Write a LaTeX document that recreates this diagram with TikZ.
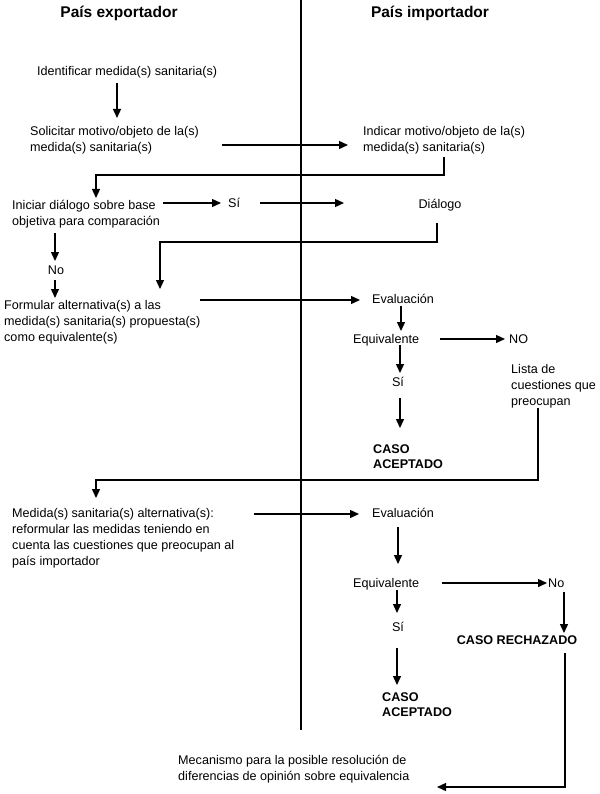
\documentclass[tikz,border=0pt]{standalone}
\usepackage{fontspec}
\setmainfont{Liberation Sans}
\usetikzlibrary{arrows.meta,calc}
\tikzset{
  txt/.style={inner sep=0pt, font=\fontsize{12.6}{16}\selectfont},
  bl/.style={txt, anchor=base west},
  bc/.style={txt, anchor=base},
  ml/.style={txt, align=left, anchor=north west},
  bold/.style={font=\fontsize{12.6}{15.5}\selectfont\bfseries},
  ttl/.style={inner sep=0pt, anchor=base, font=\fontsize{15.5}{18}\selectfont\bfseries},
  ln/.style={line width=1.4pt},
  arr/.style={ln, -{Triangle[length=9pt,width=8pt]}},
  divider/.style={line width=2pt}
}
\begin{document}
\begin{tikzpicture}[x=1pt,y=-1pt]
\useasboundingbox (0,0) rectangle (599,794);
% titles
\node[ttl] (t1) at (119,17.5) {País exportador};
\node[ttl] (t2) at (430,17.5) {País importador};
% divider
\coordinate (dtop) at (301,0);
\coordinate (dbot) at (301,730);
\draw[divider] (dtop) -- (dbot);
% exporter side
\node[bl] (ident) at (37,75.5) {Identificar medida(s) sanitaria(s)};
\node[ml] (solic) at (30,126) {Solicitar motivo/objeto de la(s)\\medida(s) sanitaria(s)};
\node[ml] (inic) at (12,200) {Iniciar diálogo sobre base\\objetiva para comparación};
\node[bl] (si1) at (228,207.5) {Sí};
\node[bc] (no1) at (56,274) {No};
\node[ml] (form) at (4,300) {Formular alternativa(s) a las\\medida(s) sanitaria(s) propuesta(s)\\como equivalente(s)};
\node[ml] (medalt) at (12,508) {Medida(s) sanitaria(s) alternativa(s):\\reformular las medidas teniendo en\\cuenta las cuestiones que preocupan al\\país importador};
\node[ml] (mec) at (178,755) {Mecanismo para la posible resolución de\\diferencias de opinión sobre equivalencia};
% importer side
\node[ml] (indic) at (363,126) {Indicar motivo/objeto de la(s)\\medida(s) sanitaria(s)};
\node[bc] (dial) at (440,209) {Diálogo};
\node[bl] (eval1) at (372,303) {Evaluación};
\node[bl] (equi1) at (353,343) {Equivalente};
\node[bl] (NO1) at (509,343) {NO};
\node[bc] (si2) at (398,386) {Sí};
\node[ml,bold] (acept1) at (373,444) {CASO\\ACEPTADO};
\node[ml] (lista) at (511,364) {Lista de\\cuestiones que\\preocupan};
\node[bl] (eval2) at (372,517.5) {Evaluación};
\node[bl] (equi2) at (353,587.5) {Equivalente};
\node[bl] (no2) at (548,587.5) {No};
\node[bc] (si3) at (398,631) {Sí};
\node[ml,bold] (acept2) at (382,692) {CASO\\ACEPTADO};
\node[bc,bold] (rech) at (517,644.5) {CASO RECHAZADO};
% connector end points
\coordinate (a1s) at (117,83);   \coordinate (a1e) at (117,118);
\coordinate (a2s) at (222,145);  \coordinate (a2e) at (348,145);
\coordinate (a3s) at (444,157);  \coordinate (a3c) at (96,175);  \coordinate (a3e) at (96,198);
\coordinate (a4s) at (163,203);  \coordinate (a4e) at (221,203);
\coordinate (a5s) at (260,203);  \coordinate (a5e) at (344,203);
\coordinate (a6s) at (437,223);  \coordinate (a6c) at (160,242); \coordinate (a6e) at (160,289);
\coordinate (a7s) at (55,233);   \coordinate (a7e) at (55,261);
\coordinate (a8s) at (55,280);   \coordinate (a8e) at (55,298);
\coordinate (a9s) at (200,300);  \coordinate (a9e) at (360,300);
\coordinate (b1s) at (401,306);  \coordinate (b1e) at (401,331);
\coordinate (b2s) at (440,339);  \coordinate (b2e) at (505,339);
\coordinate (b3s) at (400,345);  \coordinate (b3e) at (400,373);
\coordinate (b4s) at (400,398);  \coordinate (b4e) at (400,428);
\coordinate (b5s) at (538,408);  \coordinate (b5c) at (96,480); \coordinate (b5e) at (96,498);
\coordinate (b6s) at (254,514);  \coordinate (b6e) at (359,514);
\coordinate (b7s) at (398,527);  \coordinate (b7e) at (398,564);
\coordinate (b8s) at (442,583);  \coordinate (b8e) at (547,583);
\coordinate (b9s) at (397,590);  \coordinate (b9e) at (397,613);
\coordinate (c1s) at (397,648);  \coordinate (c1e) at (397,685);
\coordinate (c2s) at (564,592);  \coordinate (c2e) at (564,633);
\coordinate (c3s) at (565,653);  \coordinate (c3e) at (437,787);
% connectors
\draw[arr] (a1s) -- (a1e);
\draw[arr] (a2s) -- (a2e);
\draw[arr] (a3s) |- (a3c) -- (a3e);
\draw[arr] (a4s) -- (a4e);
\draw[arr] (a5s) -- (a5e);
\draw[arr] (a6s) |- (a6c) -- (a6e);
\draw[arr] (a7s) -- (a7e);
\draw[arr] (a8s) -- (a8e);
\draw[arr] (a9s) -- (a9e);
\draw[arr] (b1s) -- (b1e);
\draw[arr] (b2s) -- (b2e);
\draw[arr] (b3s) -- (b3e);
\draw[arr] (b4s) -- (b4e);
\draw[arr] (b5s) |- (b5c) -- (b5e);
\draw[arr] (b6s) -- (b6e);
\draw[arr] (b7s) -- (b7e);
\draw[arr] (b8s) -- (b8e);
\draw[arr] (b9s) -- (b9e);
\draw[arr] (c1s) -- (c1e);
\draw[arr] (c2s) -- (c2e);
\draw[arr] (c3s) |- (c3e);
\end{tikzpicture}
\end{document}
